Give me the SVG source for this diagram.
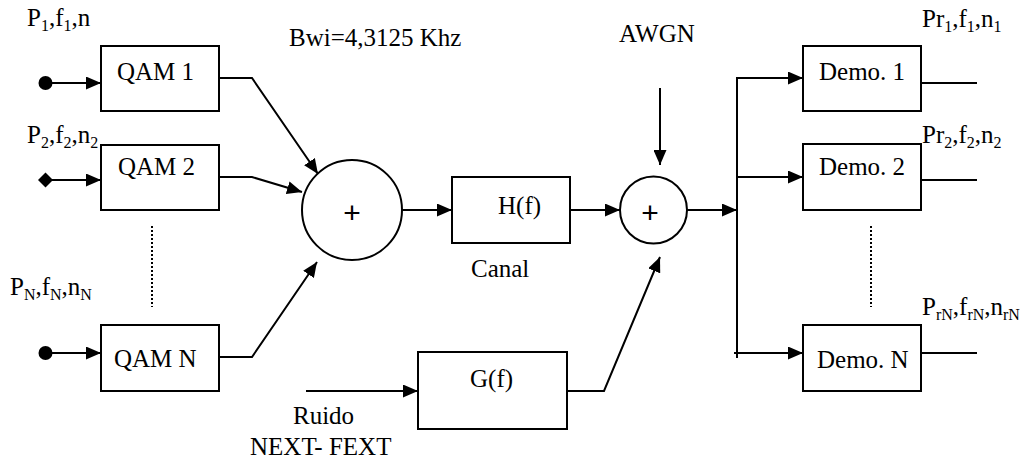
<svg xmlns="http://www.w3.org/2000/svg" width="1033" height="460" viewBox="0 0 1033 460">
<defs>
<marker id="ah" markerUnits="userSpaceOnUse" markerWidth="15" markerHeight="13" refX="15" refY="6.5" orient="auto">
<path d="M0,0 L15,6.5 L0,13 z" fill="#000"/>
</marker>
<style>
.box{fill:#fff;stroke:#000;stroke-width:2}
.ln{fill:none;stroke:#000;stroke-width:2}
.ar{fill:none;stroke:#000;stroke-width:2;marker-end:url(#ah)}
.dot{fill:none;stroke:#000;stroke-width:2;stroke-dasharray:2 2}
.s{font-size:16px}
</style>
</defs>
<rect width="1033" height="460" fill="#fff"/>
<g id="connectors">
<line class="ar" x1="45" y1="83" x2="101" y2="83"/>
<line class="ar" x1="45" y1="180" x2="101" y2="180"/>
<line class="ar" x1="45" y1="353" x2="101" y2="353"/>
<polyline class="ar" points="219,78 252,78 318,174"/>
<polyline class="ar" points="219,177 252,177 302,192"/>
<polyline class="ar" points="219,357 252,357 317,262"/>
<line class="dot" x1="152" y1="226" x2="152" y2="307"/>
<line class="ar" x1="402" y1="210" x2="452" y2="210"/>
<line class="ar" x1="570" y1="210" x2="620" y2="210"/>
<line class="ar" x1="660" y1="88" x2="660" y2="165"/>
<line class="ar" x1="306" y1="391" x2="418" y2="391"/>
<polyline class="ar" points="567,391 604,391 660,257"/>
<line class="ar" x1="687" y1="210" x2="737" y2="210"/>
<line class="ln" x1="737" y1="77" x2="737" y2="358"/>
<line class="ar" x1="737" y1="78" x2="803" y2="78"/>
<line class="ar" x1="737" y1="177" x2="803" y2="177"/>
<line class="ar" x1="734" y1="353" x2="803" y2="353"/>
<line class="ln" x1="921" y1="83" x2="977" y2="83"/>
<line class="ln" x1="921" y1="180" x2="977" y2="180"/>
<line class="ln" x1="921" y1="353" x2="977" y2="353"/>
<line class="dot" x1="871" y1="226" x2="871" y2="307"/>
</g>
<g id="inputs">
<circle cx="45.5" cy="83" r="7" fill="#000"/>
<path d="M38,180 L45.5,172.5 L53,180 L45.5,187.5 z" fill="#000"/>
<circle cx="45.5" cy="353" r="7" fill="#000"/>
</g>
<g font-family="'Liberation Serif', 'Times New Roman', serif" font-size="25" fill="#000">
<g id="qam1"><rect class="box" x="101" y="46" width="118" height="65"/><text x="117" y="80">QAM 1</text></g>
<g id="qam2"><rect class="box" x="101" y="145" width="118" height="65"/><text x="118" y="175">QAM 2</text></g>
<g id="qamN"><rect class="box" x="101" y="325" width="118" height="66"/><text x="114" y="367">QAM N</text></g>
<g id="sum1"><circle class="box" cx="352" cy="210" r="50"/><text x="352" y="223" text-anchor="middle" font-family="'Liberation Sans', sans-serif" font-size="30">+</text></g>
<g id="hf"><rect class="box" x="452" y="177" width="118" height="66"/><text x="498" y="214">H(f)</text></g>
<g id="sum2"><circle class="box" cx="653.5" cy="210" r="33.5"/><text x="650" y="223" text-anchor="middle" font-family="'Liberation Sans', sans-serif" font-size="30">+</text></g>
<g id="gf"><rect class="box" x="418" y="352" width="149" height="77"/><text x="470" y="387">G(f)</text></g>
<g id="demo1"><rect class="box" x="803" y="46" width="118" height="65"/><text x="819" y="80">Demo. 1</text></g>
<g id="demo2"><rect class="box" x="803" y="144" width="118" height="66"/><text x="819" y="175">Demo. 2</text></g>
<g id="demoN"><rect class="box" x="803" y="325" width="118" height="66"/><text x="817" y="368">Demo. N</text></g>
<g id="labels">
<text x="27" y="26">P<tspan class="s" dy="5">1</tspan><tspan dy="-5">,f</tspan><tspan class="s" dy="5">1</tspan><tspan dy="-5">,n</tspan></text>
<text x="27" y="143">P<tspan class="s" dy="5">2</tspan><tspan dy="-5">,f</tspan><tspan class="s" dy="5">2</tspan><tspan dy="-5">,n</tspan><tspan class="s" dy="5">2</tspan></text>
<text x="10" y="295">P<tspan class="s" dy="5">N</tspan><tspan dy="-5">,f</tspan><tspan class="s" dy="5">N</tspan><tspan dy="-5">,n</tspan><tspan class="s" dy="5">N</tspan></text>
<text x="922" y="27">Pr<tspan class="s" dy="5">1</tspan><tspan dy="-5">,f</tspan><tspan class="s" dy="5">1</tspan><tspan dy="-5">,n</tspan><tspan class="s" dy="5">1</tspan></text>
<text x="922" y="143">Pr<tspan class="s" dy="5">2</tspan><tspan dy="-5">,f</tspan><tspan class="s" dy="5">2</tspan><tspan dy="-5">,n</tspan><tspan class="s" dy="5">2</tspan></text>
<text x="922" y="315">P<tspan class="s" dy="5">rN</tspan><tspan dy="-5">,f</tspan><tspan class="s" dy="5">rN</tspan><tspan dy="-5">,n</tspan><tspan class="s" dy="5">rN</tspan></text>
<text x="289" y="46">Bwi=4,3125 Khz</text>
<text x="619" y="42">AWGN</text>
<text x="471" y="277">Canal</text>
<text x="293" y="424">Ruido</text>
<text x="250" y="455">NEXT- FEXT</text>
</g>
</g>
</svg>
